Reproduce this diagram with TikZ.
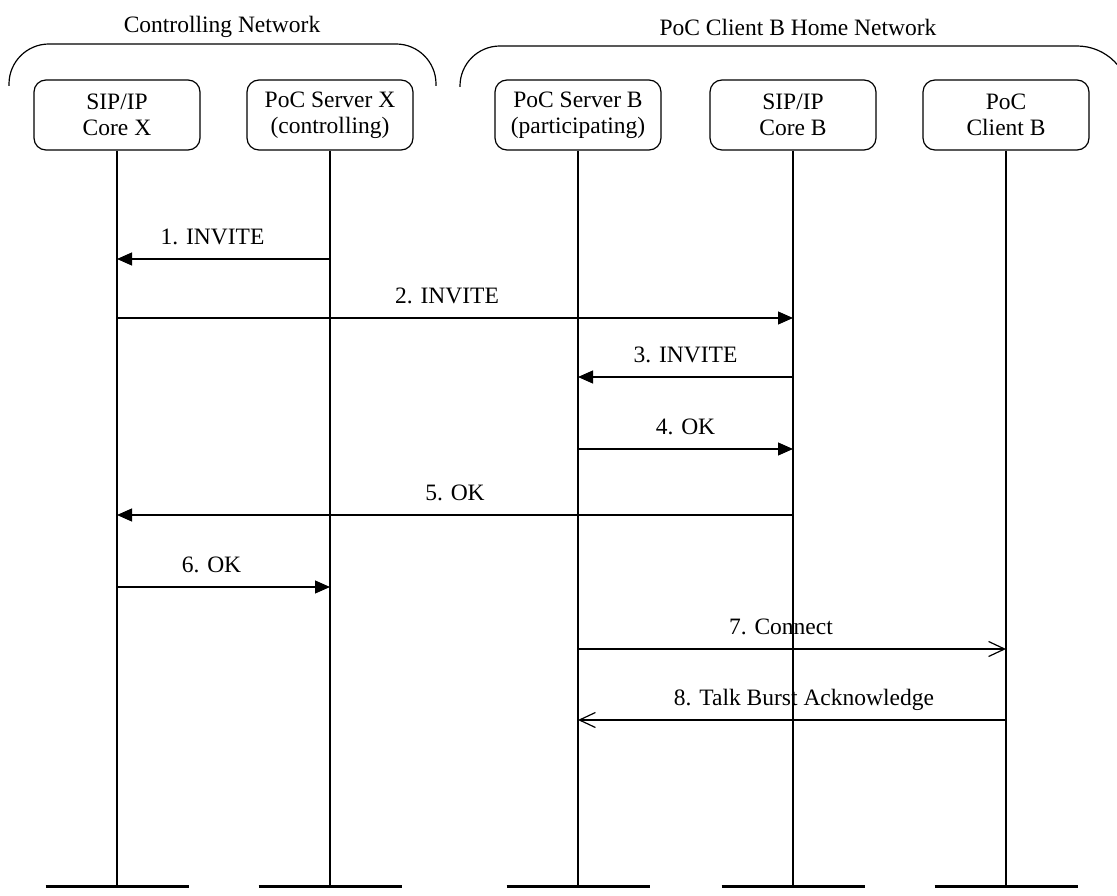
\documentclass[tikz,border=0pt]{standalone}
\usepackage{fontspec}
\setmainfont{Liberation Serif}
\usepackage{tikz}
\usetikzlibrary{positioning,arrows.meta,calc}
\tikzset{
    entity/.style={
        rectangle,
        draw=black,
        fill=white,
        line width=1.2pt,
        rounded corners=12pt,
        minimum width=166pt,
        minimum height=70pt,
        inner sep=0pt,
        align=center,
        font=\fontsize{23.5}{26}\selectfont
    },
    life/.style={line width=1.2pt},
    foot/.style={line width=3pt},
    netzone/.style={line width=1.2pt,rounded corners=40pt},
    nettitle/.style={font=\fontsize{23.5}{25}\selectfont},
    req/.style={-{Triangle[length=15pt,width=13pt]},line width=1.2pt},
    rsp/.style={-{Straight Barb[length=16pt,width=15pt,line width=1.2pt]},line width=1.2pt},
    lbl/.style={above=14pt,inner sep=0pt,text depth=0pt,font=\fontsize{23.5}{25}\selectfont}
}

\begin{document}
\begin{tikzpicture}[x=1pt,y=-1pt]
\useasboundingbox (0,0) rectangle (1117,896);

% network domains
\draw[netzone] (9,86) -- (9,44) -- (436,44) -- (436,86);
\node[nettitle] (ctrl) at (222,27) {Controlling Network};
\draw[netzone] (460,87) -- (460,46) [rounded corners=53pt] -- (1130,46) -- (1130,140);
\node[nettitle] (home) at (798,27) {PoC Client B Home Network};

% entities
\node[entity] (sipx) at (117,115) {SIP/IP\\Core X};
\node[entity] (srvx) at (330,115) {PoC Server X\\(controlling)};
\node[entity] (srvb) at (578,115) {PoC Server B\\(participating)};
\node[entity] (sipb) at (793,115) {SIP/IP\\Core B};
\node[entity] (clb)  at (1006,115) {PoC\\Client B};

% lifelines
\foreach \e in {sipx,srvx,srvb,sipb,clb}{
    \coordinate (\e-end) at (\e |- 0,886);
    \draw[life] (\e.south) -- (\e-end);
    \draw[foot] ($(\e-end)+(-71.5,0)$) -- ($(\e-end)+(71.5,0)$);
}

% message rows
\coordinate (r1) at (0,259);
\coordinate (r2) at (0,318);
\coordinate (r3) at (0,377);
\coordinate (r4) at (0,449);
\coordinate (r5) at (0,515);
\coordinate (r6) at (0,587);
\coordinate (r7) at (0,649);
\coordinate (r8) at (0,720);

\draw[req] (srvx |- r1) -- (sipx |- r1) node[lbl,midway,xshift=-11pt] {1. INVITE};
\draw[req] (sipx |- r2) -- (sipb |- r2) node[lbl,midway,xshift=-8pt] {2. INVITE};
\draw[req] (sipb |- r3) -- (srvb |- r3) node[lbl,midway] {3. INVITE};
\draw[req] (srvb |- r4) -- (sipb |- r4) node[lbl,midway] {4. OK};
\draw[req] (sipb |- r5) -- (sipx |- r5) node[lbl,midway] {5. OK};
\draw[req] (sipx |- r6) -- (srvx |- r6) node[lbl,midway,xshift=-12pt] {6. OK};
\draw[rsp] (srvb |- r7) -- (clb |- r7) node[lbl,midway,xshift=-11pt] {7. Connect};
\draw[rsp] (clb |- r8) -- (srvb |- r8) node[lbl,midway,xshift=12pt] {8. Talk Burst Acknowledge};
\end{tikzpicture}
\end{document}
